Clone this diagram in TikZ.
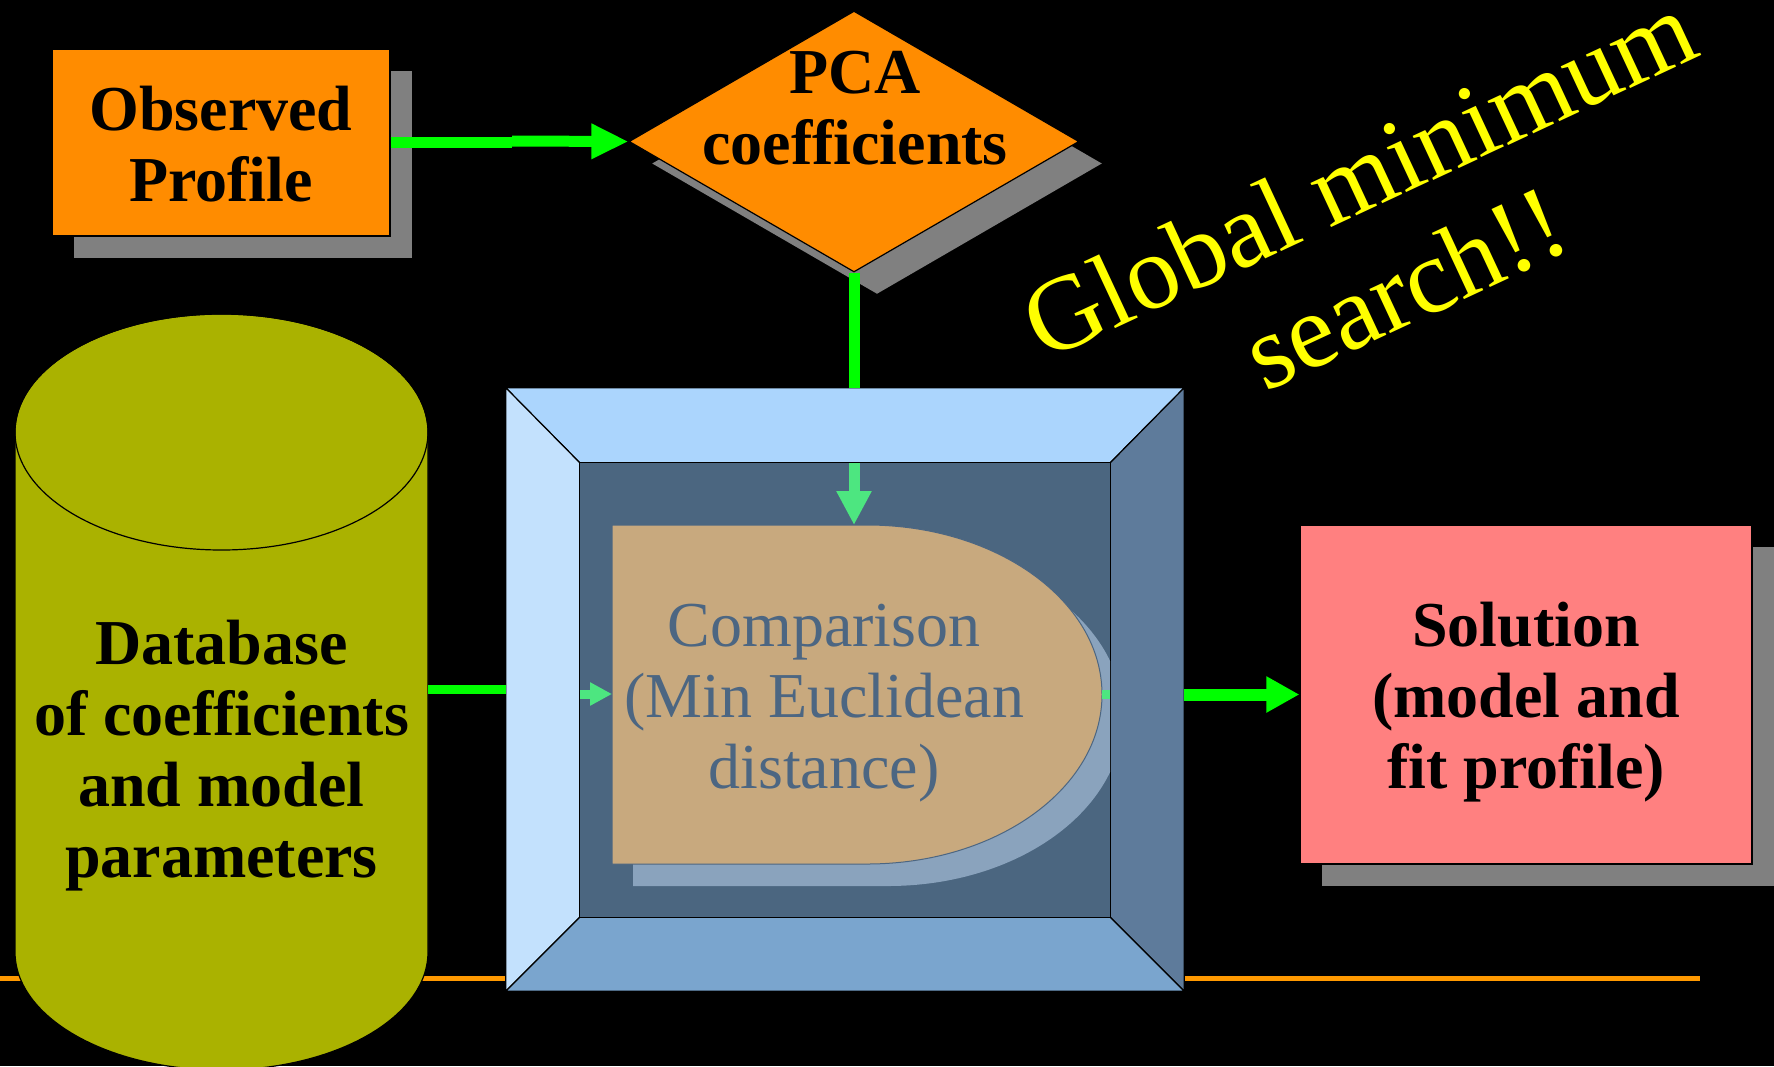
\documentclass[tikz,border=0pt]{standalone}
\usepackage{fontspec}
\setmainfont{Liberation Serif}
\usetikzlibrary{arrows.meta,shapes.geometric,shadows,calc}
\definecolor{orangebox}{RGB}{255,140,0}
\definecolor{shadowgray}{RGB}{128,128,128}
\definecolor{brightgreen}{RGB}{0,255,0}
\definecolor{softgreen}{RGB}{77,230,128}
\definecolor{olivedb}{RGB}{170,178,0}
\definecolor{pinkbox}{RGB}{255,128,128}
\definecolor{linecol}{RGB}{255,153,0}
\definecolor{facetop}{RGB}{171,213,253}
\definecolor{faceleft}{RGB}{195,225,253}
\definecolor{faceright}{RGB}{94,123,155}
\definecolor{facebottom}{RGB}{122,165,206}
\definecolor{innerface}{RGB}{75,102,128}
\definecolor{tanfill}{RGB}{200,169,126}
\definecolor{tanshadow}{RGB}{138,163,189}
\definecolor{slate}{RGB}{76,102,130}
\definecolor{yellowtxt}{RGB}{255,255,0}
\begin{document}
\begin{tikzpicture}[x=1pt,y=-1pt,
  boldtext/.style={font=\bfseries\fontsize{64}{71}\selectfont, align=center, text=black, inner sep=0pt},
  plaintext/.style={font=\fontsize{64}{71}\selectfont, align=center, text=slate, inner sep=0pt},
  gtext/.style={font=\fontsize{106}{121}\selectfont, text=yellowtxt, inner sep=0pt, anchor=base, rotate=25},
  shadowed/.style={drop shadow={shadow xshift=22pt, shadow yshift=-22pt, fill=shadowgray, opacity=1}},
  gline/.style={draw=brightgreen, line width=11pt},
  garrow/.style={draw=brightgreen, line width=11pt, -{Triangle[length=37pt,width=33pt]}},
  sgarrow/.style={draw=softgreen, line width=11pt, -{Triangle[length=34pt,width=33pt]}},
  sgarrowsmall/.style={draw=softgreen, line width=9pt, -{Triangle[length=22pt,width=22pt]}},
  rarrow/.style={draw=brightgreen, line width=12pt, -{Triangle[length=33pt,width=34pt]}},
  face/.style={draw=black, line width=1.2pt},
  box/.style={draw=black, line width=1.2pt, inner sep=0pt}
]
\fill[black] (0,0) rectangle (1774,1066);
\useasboundingbox (0,0) rectangle (1774,1066);

% orange rule
\draw[linecol, line width=5pt] (0,978) -- (1700,978);

% database cylinder
\path[fill=olivedb, draw=black, line width=1.2pt] (15,432) -- (15,952)
  arc[start angle=180, end angle=360, x radius=206.5pt, y radius=118pt]
  -- (428,432)
  arc[start angle=0, end angle=180, x radius=206.5pt, y radius=118pt] -- cycle;
\draw[black, line width=1.2pt] (221.5,432) ellipse [x radius=206.5pt, y radius=118pt];
\node[boldtext] (db) at (221.5,756) {Database\\of coefficients\\and model\\parameters};
\coordinate (dbE) at (428,689);

% bevel frame
\node[minimum width=678pt, minimum height=603pt, inner sep=0pt] (bevel) at (845,689.5) {};
\node[minimum width=530pt, minimum height=454pt, inner sep=0pt] (inner) at (845,690) {};
\path[face, fill=facetop] (bevel.north west) -- (bevel.north east) -- (inner.north east) -- (inner.north west) -- cycle;
\path[face, fill=faceleft] (bevel.north west) -- (inner.north west) -- (inner.south west) -- (bevel.south west) -- cycle;
\path[face, fill=faceright] (bevel.north east) -- (bevel.south east) -- (inner.south east) -- (inner.north east) -- cycle;
\path[face, fill=facebottom] (bevel.south west) -- (inner.south west) -- (inner.south east) -- (bevel.south east) -- cycle;
\path[face, fill=innerface] (inner.north west) rectangle (inner.south east);

% comparison shape
\begin{scope}
  \clip (inner.north west) rectangle (inner.south east);
  \fill[tanshadow] (633,547) -- (888,547)
    arc[start angle=90, end angle=-90, x radius=235pt, y radius=169.5pt]
    -- (633,886) -- cycle;
\end{scope}
\path[fill=tanfill, draw=slate, line width=1pt] (612,525) -- (867,525)
  arc[start angle=90, end angle=-90, x radius=235pt, y radius=169.5pt]
  -- (612,864) -- cycle;
\coordinate (cmpN) at (856,525);
\coordinate (cmpW) at (612,694);
\coordinate (cmpE) at (1102,694);
\node[plaintext] (cmp) at (824,703) {Comparison\\(Min Euclidean\\distance)};

% observed profile
\node[box, fill=orangebox, shadowed, minimum width=338pt, minimum height=187pt] (obs) at (221,142.5) {};
\node[boldtext] (obsT) at (221,144) {Observed\\Profile};

% PCA diamond
\node[diamond, box, fill=orangebox, drop shadow={shadow xshift=23pt, shadow yshift=-22pt, fill=shadowgray, opacity=1},
      minimum width=450pt, minimum height=261pt] (pca) at (854,141.5) {};
\node[boldtext] (pcaT) at (855,108) {PCA\\coefficients};

% solution
\node[box, fill=pinkbox, shadowed, minimum width=452pt, minimum height=339pt] (sol) at (1526,694.5) {};
\node[boldtext] (solT) at (1526,702.5) {Solution\\(model and\\fit profile)};

% connectors
\coordinate (jog) at (512,141);
\draw[gline] (obs.east) -- (obs.east -| jog);
\draw[garrow] (jog) -- (pca.west);
\draw[gline] (pca.south) -- (pca.south |- bevel.north);
\draw[sgarrow] (pca.south |- inner.north) -- (pca.south |- cmpN);
\draw[draw=brightgreen, line width=9pt] (dbE) -- (bevel.west |- dbE);
\draw[sgarrowsmall] (inner.west |- cmpW) -- (cmpW);
\draw[draw=softgreen, line width=9pt] (cmpE) -- (inner.east |- cmpE);
\draw[rarrow] (sol.west -| bevel.east) -- (sol.west);

% global minimum text
\node[gtext] (g1) at (1374,208) {Global minimum};
\node[gtext] (g2) at (1420,320) {search!!};
\end{tikzpicture}
\end{document}
